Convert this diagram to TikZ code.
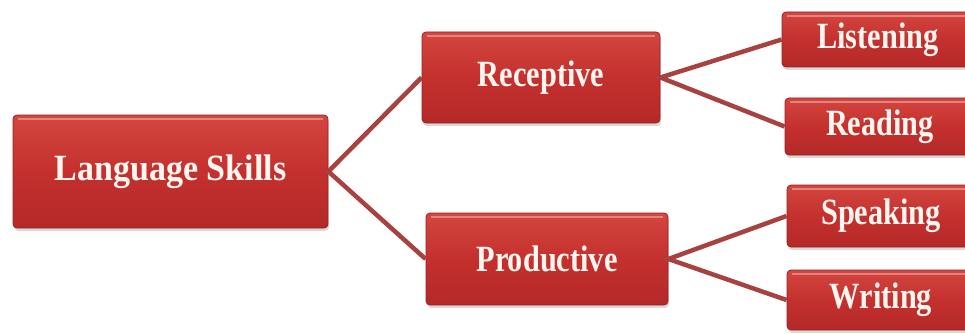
\documentclass[tikz,border=0pt]{standalone}
\usepackage{fontspec}
\setmainfont{Liberation Serif}
\newfontfamily\leaffont{Liberation Serif}[FakeStretch=0.82]
\newfontfamily\rootfont{Liberation Serif}[FakeStretch=0.92]
\usepackage{tikz}
\usetikzlibrary{calc}
\usetikzlibrary{shadows}
\definecolor{boxred}{HTML}{C4302E}
\definecolor{boxtop}{HTML}{D4463F}
\definecolor{boxbot}{HTML}{B42929}
\definecolor{boxedge}{HTML}{9A2024}
\definecolor{linkred}{HTML}{A84240}
\definecolor{txtcream}{HTML}{FFF6EF}
\tikzset{
	skillbox/.style={rectangle,rounded corners=4pt,draw=boxedge,line width=0.8pt,
		top color=boxtop,bottom color=boxbot,middle color=boxred,
		text=txtcream,inner sep=0pt,
		drop shadow={opacity=0.3,shadow xshift=1pt,shadow yshift=-3pt},
		path picture={\draw[white,opacity=0.35,line width=2.5pt]
			($(path picture bounding box.north west)+(5pt,-4pt)$) --
			($(path picture bounding box.north east)+(-5pt,-4pt)$);}},
	leaf/.style={skillbox,font=\leaffont\bfseries\fontsize{37}{40}\selectfont},
	link/.style={linkred,line width=4.5pt}
}
\begin{document}
\begin{tikzpicture}[x=1pt,y=-1pt]
		\useasboundingbox (0,0) rectangle (965,334);
		\begin{scope}
		\clip (0,0) rectangle (965,334);
		\node[skillbox,minimum width=315pt,minimum height=113pt,
			font=\rootfont\bfseries\fontsize{37}{40}\selectfont] (lang) at (170.5,171.5) {Language Skills};
		\node[leaf,minimum width=238pt,minimum height=91pt] (rec) at (541,77.5) {Receptive};
		\node[leaf,minimum width=242pt,minimum height=92pt] (prod) at (547,259) {Productive};

		\node[leaf,minimum width=192pt,minimum height=55pt] (listen) at (878,39.5) {Listening};
		\node[leaf,minimum width=190pt,minimum height=57pt] (read) at (880,126.5) {Reading};
		\node[leaf,minimum width=188pt,minimum height=62pt] (speak) at (881,216) {Speaking};
		\node[leaf,minimum width=188pt,minimum height=60pt] (write) at (881,300) {Writing};

		\draw[link] (rec.west) -- (lang.east) -- (prod.west);
		\draw[link] (listen.west) -- (rec.east) -- (read.west);
		\draw[link] (speak.west) -- (prod.east) -- (write.west);
		\end{scope}
	\end{tikzpicture}
\end{document}
